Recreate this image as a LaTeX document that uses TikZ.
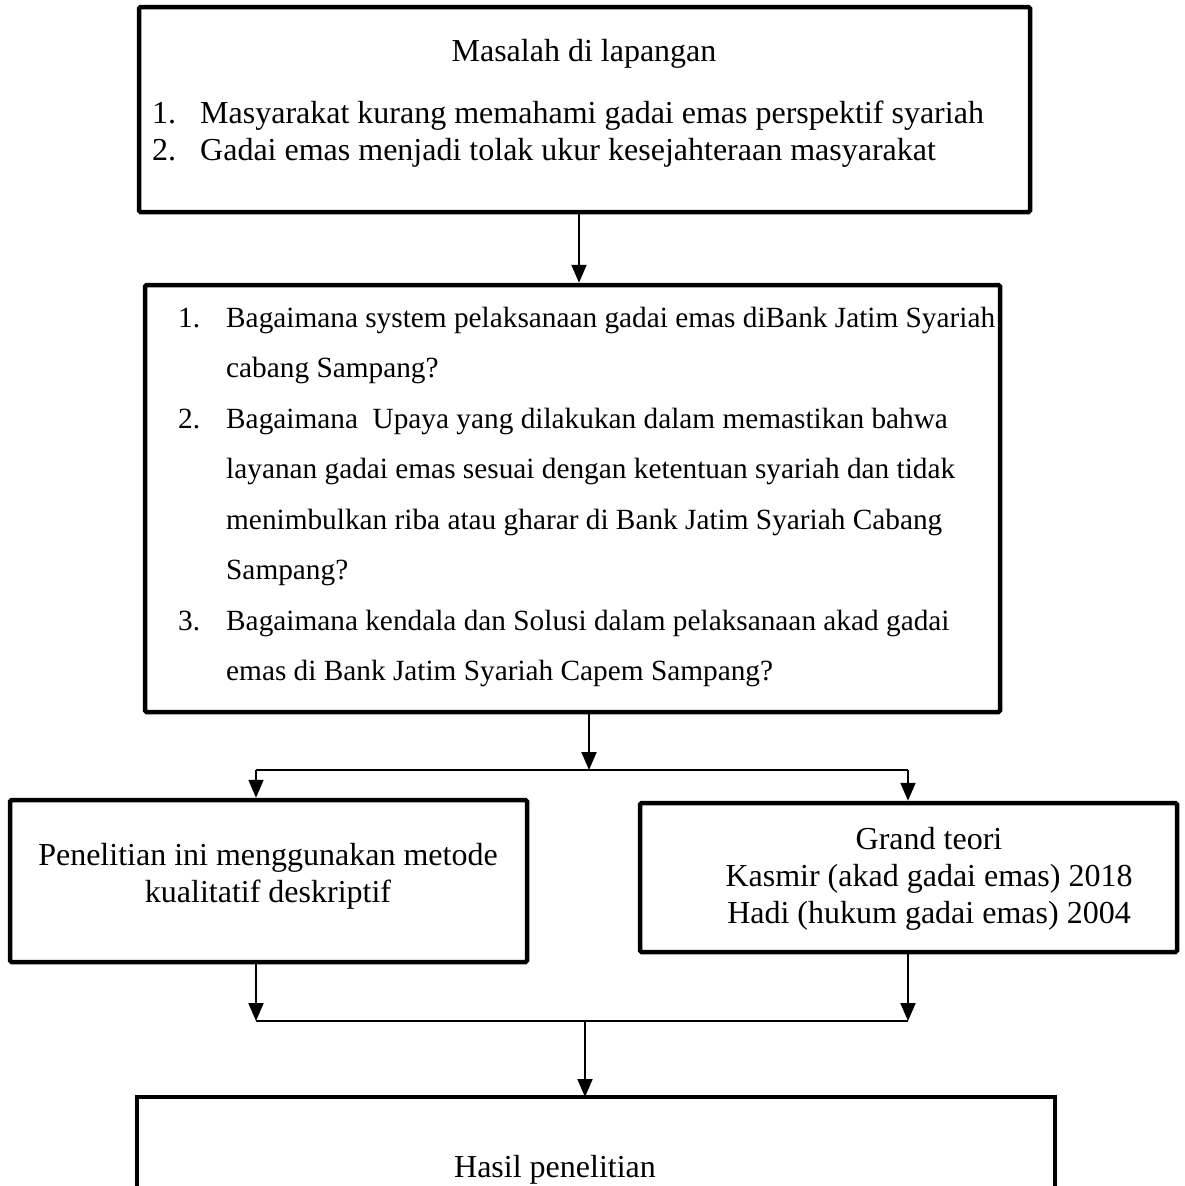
\documentclass[tikz,border=0pt]{standalone}
\usepackage{fontspec}
\setmainfont{Liberation Serif}
\usetikzlibrary{arrows.meta}
\tikzset{
  box/.style={draw, line width=4.5pt, rounded corners=1.5pt, inner sep=0pt},
  conn/.style={line width=2pt},
  arr/.style={line width=2pt, -{Triangle[length=18pt,width=15pt]}},
  big/.style={font=\fontsize{32}{37}\selectfont, inner sep=0pt},
  mid/.style={font=\fontsize{29.3}{35}\selectfont, inner sep=0pt},
}
\begin{document}
\begin{tikzpicture}[x=1pt,y=-1pt]
\useasboundingbox (0,0) rectangle (1184,1186);
\fill[white] (0,0) rectangle (1184,1186);
% boxes
\node[box, minimum width=891pt, minimum height=205pt] (b1) at (584.5,109.5) {};
\node[box, minimum width=855pt, minimum height=427pt] (b2) at (572.5,498.5) {};
\node[box, minimum width=517pt, minimum height=162pt] (bl) at (268.5,881) {};
\node[box, minimum width=537pt, minimum height=149pt] (br) at (908.5,877.5) {};
% texts box 1
\node[big] (t1) at (584,54) {Masalah di lapangan};
\node[big, anchor=base west] (n11) at (152,123) {1.};
\node[big, anchor=base west] (l11) at (200,123) {Masyarakat kurang memahami gadai emas perspektif syariah};
\node[big, anchor=base west] (n12) at (152,160) {2.};
\node[big, anchor=base west] (l12) at (200,160) {Gadai emas menjadi tolak ukur kesejahteraan masyarakat};
% texts box 2
\node[mid, anchor=base west] (n21) at (178,327) {1.};
\node[mid, anchor=base west] (l21) at (226,327) {Bagaimana system pelaksanaan gadai emas diBank Jatim Syariah};
\node[mid, anchor=base west] (l22) at (226,377.5) {cabang Sampang?};
\node[mid, anchor=base west] (n22) at (178,428) {2.};
\node[mid, anchor=base west] (l23) at (226,428) {Bagaimana\ \ Upaya yang dilakukan dalam memastikan bahwa};
\node[mid, anchor=base west] (l24) at (226,478.5) {layanan gadai emas sesuai dengan ketentuan syariah dan tidak};
\node[mid, anchor=base west] (l25) at (226,529) {menimbulkan riba atau gharar di Bank Jatim Syariah Cabang};
\node[mid, anchor=base west] (l26) at (226,579.5) {Sampang?};
\node[mid, anchor=base west] (n23) at (178,630) {3.};
\node[mid, anchor=base west] (l27) at (226,630) {Bagaimana kendala dan Solusi dalam pelaksanaan akad gadai};
\node[mid, anchor=base west] (l28) at (226,680.5) {emas di Bank Jatim Syariah Capem Sampang?};
% left box text
\node[big, align=center] (tl) at (268,876) {Penelitian ini menggunakan metode\\kualitatif deskriptif};
% right box text
\node[big, align=center] (tr) at (929,879) {Grand teori\\Kasmir (akad gadai emas) 2018\\Hadi (hukum gadai emas) 2004};
% bottom box (partially visible)
\coordinate (bbL) at (137,1200);
\coordinate (bbTL) at (137,1097);
\coordinate (bbTR) at (1055,1097);
\coordinate (bbR) at (1055,1200);
\draw[line width=4.5pt] (bbL) -- (bbTL) -- (bbTR) -- (bbR);
\node[big] (tb) at (555,1170) {Hasil penelitian};
% connector coordinates
\coordinate (x1) at (579,0);
\coordinate (x2) at (589,770);
\coordinate (sL) at (256,770);
\coordinate (sR) at (908,770);
\coordinate (mL) at (256,1021);
\coordinate (mR) at (908,1021);
\coordinate (mC) at (585,1021);
% connectors
\draw[arr] (b1.south -| x1) -- (b2.north -| x1);
\draw[arr] (b2.south -| x2) -- (x2);
\draw[conn] (sL) -- (sR);
\draw[arr] (sL) -- (bl.north -| sL);
\draw[arr] (sR) -- (br.north -| sR);
\draw[arr] (bl.south -| mL) -- (mL);
\draw[arr] (br.south -| mR) -- (mR);
\draw[conn] (mL) -- (mR);
\draw[arr] (mC) -- (bbTL -| mC);
\end{tikzpicture}
\end{document}
